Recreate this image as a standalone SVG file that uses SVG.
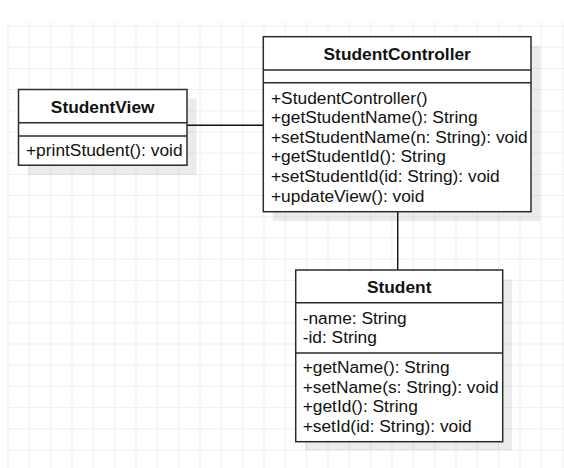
<svg xmlns="http://www.w3.org/2000/svg" width="564" height="468" viewBox="0 0 564 468">
<style>
.grid{stroke:#efefef;stroke-width:1;fill:none}
.shadow{fill:#000;fill-opacity:0.075;stroke:none}
.box{fill:#fff;stroke:#2b2b2b;stroke-width:1.5}
.div{stroke:#2b2b2b;stroke-width:1.5;fill:none}
.conn{stroke:#111;stroke-width:1.4;fill:none}
text{font-family:"Liberation Sans",Arial,sans-serif;font-size:17.33px;fill:#111}
.title{font-weight:bold;text-anchor:middle}
</style>
<rect width="564" height="468" fill="#fff"/>
<g id="grid">
<path class="grid" d="M8 21V468M29.33 21V468M50.67 21V468M72 21V468M93.33 21V468M114.67 21V468M136 21V468M157.33 21V468M178.67 21V468M200 21V468M221.33 21V468M242.67 21V468M264 21V468M285.33 21V468M306.67 21V468M328 21V468M349.33 21V468M370.67 21V468M392 21V468M413.33 21V468M434.67 21V468M456 21V468M477.33 21V468M498.67 21V468M520 21V468M541.33 21V468M562.67 21V468"/>
<path class="grid" d="M7 26H564M7 47.2H564M7 68.4H564M7 89.6H564M7 110.8H564M7 132H564M7 153.2H564M7 174.4H564M7 195.6H564M7 216.8H564M7 238H564M7 259.2H564M7 280.4H564M7 301.6H564M7 322.8H564M7 344H564M7 365.2H564M7 386.4H564M7 407.6H564M7 428.8H564M7 450H564"/>
</g>
<g id="connectors">
<line class="conn" x1="187" y1="125.3" x2="263.3" y2="125.3"/>
<line class="conn" x1="397.7" y1="211.7" x2="397.7" y2="270"/>
</g>
<g id="StudentView">
<rect class="shadow" x="28" y="98.7" width="168.5" height="76.3"/>
<rect class="box" x="18.5" y="89.5" width="168.5" height="75.7"/>
<line class="div" x1="18.5" y1="122.7" x2="187" y2="122.7"/>
<line class="div" x1="18.5" y1="136" x2="187" y2="136"/>
<text class="title" x="102.7" y="113">StudentView</text>
<text x="26" y="155.5">+printStudent(): void</text>
</g>
<g id="StudentController">
<rect class="shadow" x="272.8" y="46" width="267.7" height="175.2"/>
<rect class="box" x="263.3" y="36.7" width="267.7" height="175"/>
<line class="div" x1="263.3" y1="70" x2="531" y2="70"/>
<line class="div" x1="263.3" y1="82.7" x2="531" y2="82.7"/>
<text class="title" x="397.2" y="59.5">StudentController</text>
<text x="271" y="103.5">+StudentController()</text>
<text x="271" y="123.1">+getStudentName(): String</text>
<text x="271" y="142.7">+setStudentName(n: String): void</text>
<text x="271" y="162.3">+getStudentId(): String</text>
<text x="271" y="181.9">+setStudentId(id: String): void</text>
<text x="271" y="201.5">+updateView(): void</text>
</g>
<g id="Student">
<rect class="shadow" x="305" y="279.5" width="207" height="171"/>
<rect class="box" x="295.7" y="270" width="207" height="171.7"/>
<line class="div" x1="295.7" y1="302.7" x2="502.7" y2="302.7"/>
<line class="div" x1="295.7" y1="353" x2="502.7" y2="353"/>
<text class="title" x="399.2" y="293">Student</text>
<text x="302.7" y="323.5">-name: String</text>
<text x="302.7" y="343">-id: String</text>
<text x="302.7" y="373.2">+getName(): String</text>
<text x="302.7" y="392.8">+setName(s: String): void</text>
<text x="302.7" y="412.4">+getId(): String</text>
<text x="302.7" y="432">+setId(id: String): void</text>
</g>
</svg>
